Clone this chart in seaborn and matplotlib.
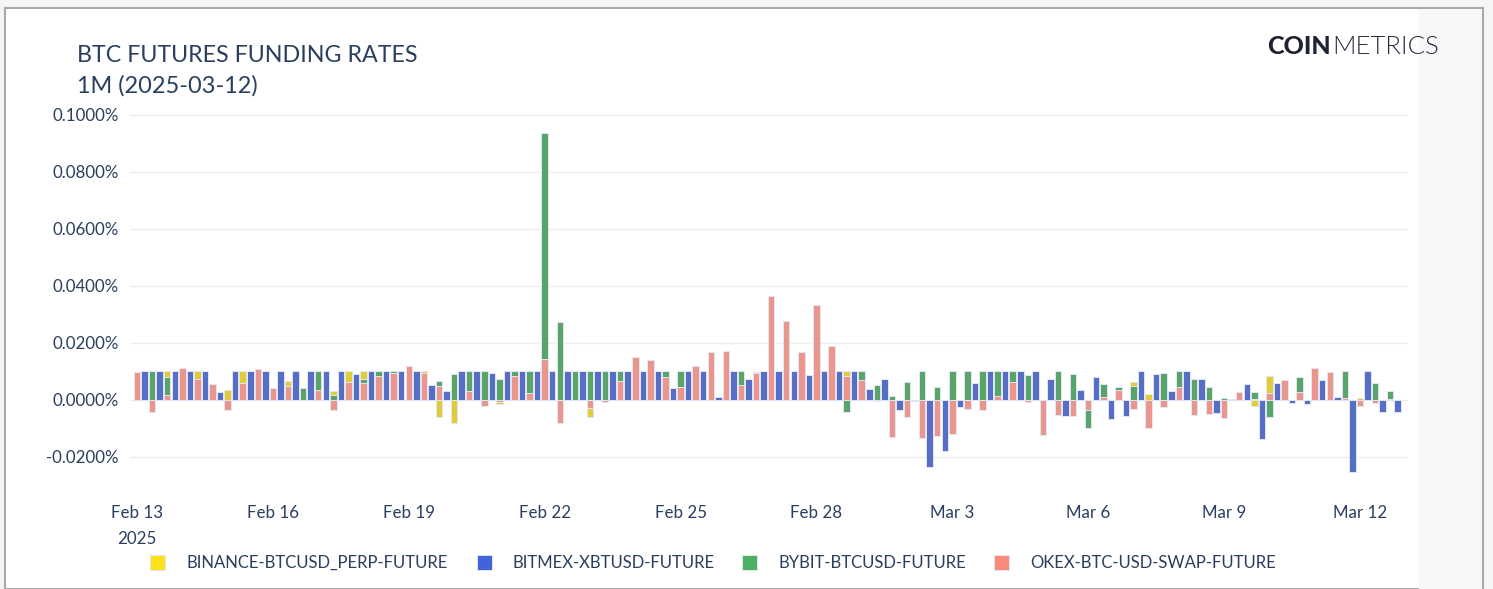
import numpy as np
import pandas as pd
import seaborn as sns
import matplotlib
matplotlib.use("Agg")
import matplotlib.pyplot as plt
from matplotlib.patches import Rectangle
from matplotlib.ticker import FuncFormatter

# ---------------- data ----------------
series_names = ["BINANCE-BTCUSD_PERP-FUTURE", "BITMEX-XBTUSD-FUTURE",
                "BYBIT-BTCUSD-FUTURE", "OKEX-BTC-USD-SWAP-FUTURE"]
series_colors = ["#ffe119", "#4363d8", "#4cb162", "#fa8a7c"]

# funding timestamps (8-hourly); BitMEX settles 4h offset from the others
times_main = pd.date_range("2025-02-13 00:00", periods=84, freq="8h")
times_bitmex = pd.date_range("2025-02-13 04:00", periods=84, freq="8h")

binance = [0.0090, 0.0060, 0.0100, 0.0100, 0.0100, 0.0040, 0.0035, 0.0100, 0.0100, 0.0030,
           0.0068, 0.0030, 0.0080, 0.0033, 0.0100, 0.0100, 0.0080, 0.0090, 0.0100, 0.0100,
           -0.0061, -0.0080, 0.0080, 0.0050, -0.0015, 0.0080, 0.0080, 0.0100, 0.0100, 0.0080,
           -0.0061, 0.0080, 0.0080, 0.0100, 0.0100, 0.0080, 0.0040, 0.0100, 0.0100, 0.0100,
           0.0080, 0.0090, 0.0100, 0.0100, 0.0100, 0.0100, 0.0100, 0.0100, 0.0060, 0.0030,
           0.0010, 0.0040, 0.0050, 0.0030, 0.0050, 0.0050, 0.0050, 0.0050, 0.0050, 0.0050,
           -0.0050, 0.0050, 0.0050, -0.0020, 0.0030, 0.0020, 0.0062, 0.0021, 0.0050, 0.0050,
           0.0050, 0.0030, 0.0005, 0.0020, -0.0021, 0.0084, 0.0050, 0.0050, 0.0080, 0.0080,
           0.0050, 0.0006, 0.0030, 0.0020]

bybit = [0.0095, 0.0100, 0.0082, 0.0100, 0.0060, 0.0045, -0.0020, 0.0050, 0.0100, 0.0035,
         0.0045, 0.0041, 0.0100, 0.0018, 0.0050, 0.0073, 0.0100, 0.0100, 0.0100, 0.0080,
         0.0068, 0.0090, 0.0100, 0.0100, 0.0073, 0.0100, 0.0100, 0.0937, 0.0275, 0.0100,
         0.0100, 0.0100, 0.0100, 0.0100, 0.0100, 0.0100, 0.0100, 0.0100, 0.0100, 0.0100,
         0.0100, 0.0099, 0.0100, 0.0100, 0.0100, 0.0100, 0.0100, -0.0044, 0.0100, 0.0053,
         0.0015, 0.0064, 0.0100, 0.0047, 0.0100, 0.0100, 0.0100, 0.0100, 0.0100, 0.0088,
         -0.0060, 0.0100, 0.0090, -0.0097, 0.0055, 0.0044, 0.0050, -0.0050, 0.0094, 0.0100,
         0.0074, 0.0047, 0.0008, 0.0020, 0.0027, -0.0061, 0.0060, 0.0080, 0.0090, 0.0090,
         0.0100, -0.0010, 0.0058, 0.0033]

okex = [0.0097, -0.0041, 0.0016, 0.0113, 0.0073, 0.0055, -0.0035, 0.0058, 0.0108, 0.0041,
        0.0049, 0.0001, 0.0035, -0.0035, 0.0062, 0.0061, 0.0084, 0.0094, 0.0120, 0.0094,
        0.0050, 0.0001, 0.0033, -0.0021, -0.0006, 0.0085, 0.0026, 0.0143, -0.0080, 0.0001,
        -0.0027, -0.0006, 0.0068, 0.0152, 0.0140, 0.0080, 0.0047, 0.0120, 0.0170, 0.0173,
        0.0053, 0.0094, 0.0366, 0.0278, 0.0170, 0.0333, 0.0191, 0.0084, 0.0070, -0.0004,
        -0.0131, -0.0061, -0.0135, -0.0126, -0.0120, -0.0033, -0.0035, 0.0015, 0.0062, -0.0006,
        -0.0123, -0.0053, -0.0058, -0.0035, 0.0012, 0.0035, -0.0032, -0.0099, -0.0023, 0.0047,
        -0.0053, -0.0049, -0.0064, 0.0029, 0.0003, 0.0026, 0.0070, 0.0027, 0.0113, 0.0097,
        0.0006, -0.0021, -0.0012, 0.0002]

bitmex = [0.0100, 0.0100, 0.0100, 0.0100, 0.0100, 0.0029, 0.0100, 0.0100, 0.0100, 0.0100,
          0.0100, 0.0100, 0.0100, 0.0100, 0.0090, 0.0100, 0.0100, 0.0100, 0.0100, 0.0053,
          0.0032, 0.0100, 0.0100, 0.0094, 0.0100, 0.0100, 0.0100, 0.0100, 0.0100, 0.0100,
          0.0100, 0.0100, 0.0100, 0.0100, 0.0100, 0.0043, 0.0100, 0.0100, 0.0009, 0.0100,
          0.0073, 0.0100, 0.0100, 0.0100, 0.0088, 0.0100, 0.0100, 0.0100, 0.0037, 0.0074,
          -0.0035, -0.0002, -0.0236, -0.0178, -0.0026, 0.0058, 0.0100, 0.0100, 0.0100, 0.0100,
          0.0073, -0.0056, 0.0035, 0.0080, -0.0067, -0.0058, 0.0100, 0.0090, 0.0033, 0.0100,
          0.0074, -0.0047, 0.0002, 0.0056, -0.0137, 0.0058, -0.0012, -0.0014, 0.0070, 0.0012,
          -0.0254, 0.0100, -0.0044, -0.0044]

x_tick_dates = ["2025-02-13", "2025-02-16", "2025-02-19", "2025-02-22", "2025-02-25",
                "2025-02-28", "2025-03-03", "2025-03-06", "2025-03-09", "2025-03-12"]
x_tick_labels = ["Feb 13\n2025", "Feb 16", "Feb 19", "Feb 22", "Feb 25",
                 "Feb 28", "Mar 3", "Mar 6", "Mar 9", "Mar 12"]
y_ticks = [-0.02, 0.0, 0.02, 0.04, 0.06, 0.08, 0.10]

title_line1 = "BTC FUTURES FUNDING RATES"
title_line2 = "1M (2025-03-12)"

# ---------------- frame ----------------
t0 = pd.Timestamp("2025-02-13 00:00")
frames = []
for name, times, vals in [(series_names[0], times_main, binance),
                          (series_names[1], times_bitmex, bitmex),
                          (series_names[2], times_main, bybit),
                          (series_names[3], times_main, okex)]:
    frames.append(pd.DataFrame({"day": (times - t0) / pd.Timedelta("1D"),
                                "rate": vals, "exchange": name}))
df = pd.concat(frames, ignore_index=True)

# ---------------- figure ----------------
sns.set_theme(style="white")
plt.rcParams["font.family"] = ["Lato", "DejaVu Sans"]

W, H = 1493, 589
fig = plt.figure(figsize=(W / 100, H / 100), dpi=100)
fig.patch.set_facecolor("#f5f5f5")

def fx(px):
    return px / W

def fy(py):
    return 1 - py / H

card = Rectangle((fx(5), 0), fx(1483) - fx(5), fy(8), transform=fig.transFigure,
                 facecolor="white", edgecolor="#a9a9a9", linewidth=1.5, zorder=-10)
fig.add_artist(card)
strip = Rectangle((fx(1419), 0), fx(1482) - fx(1419), fy(9), transform=fig.transFigure,
                  facecolor="#f7f7f8", edgecolor="none", zorder=-9)
fig.add_artist(strip)

ax = fig.add_axes([fx(130), fy(490), fx(1408) - fx(130), fy(105) - fy(490)])
ax.patch.set_alpha(0)

sns.barplot(data=df, x="day", y="rate", hue="exchange", hue_order=series_names,
            palette=dict(zip(series_names, series_colors)), native_scale=True,
            dodge=False, width=0.86, errorbar=None, edgecolor="#e3e6f3",
            linewidth=0.7, legend=False, ax=ax)

tick_pos = [(pd.Timestamp(d) - t0) / pd.Timedelta("1D") for d in x_tick_dates]
ax.set_xlim(-0.155, 28.06)
ax.set_ylim(-0.0316, 0.1035)
ax.set_xticks(tick_pos)
ax.set_xticklabels(x_tick_labels)
ax.set_yticks(y_ticks)
ax.yaxis.set_major_formatter(FuncFormatter(lambda v, p: f"{v:.4f}%"))
ax.set_xlabel("")
ax.set_ylabel("")
for s in ax.spines.values():
    s.set_visible(False)
ax.yaxis.grid(True, color="#eeeeee", linewidth=1)
ax.xaxis.grid(False)
ax.set_axisbelow(True)
ax.tick_params(axis="both", length=0, labelsize=12.2, labelcolor="#2a3f5f")
ax.tick_params(axis="y", pad=8)
ax.tick_params(axis="x", pad=11)
for lbl in ax.get_xticklabels():
    lbl.set_linespacing(1.75)

# titles
fig.text(fx(77), fy(62), title_line1, fontsize=16.75, color="#2a3f5f", va="baseline", ha="left")
fig.text(fx(77), fy(93), title_line2, fontsize=16.9, color="#2a3f5f", va="baseline", ha="left")

# logo
fig.text(fx(1331), fy(54), "COIN", fontsize=18, fontweight="black", color="#1f2233",
         va="baseline", ha="right")
fig.text(fx(1332), fy(54), "METRICS", fontsize=18.5, fontweight=300, color="#2a2d3d",
         va="baseline", ha="left")

# legend
legend_x = [150, 477, 742, 994]
for xpos, name, col in zip(legend_x, series_names, series_colors):
    fig.add_artist(Rectangle((fx(xpos), fy(570)), fx(15), 15 / H, transform=fig.transFigure,
                             facecolor=col, edgecolor="#e3e6f3", linewidth=0.7))
    fig.text(fx(xpos + 36), fy(563), name, fontsize=12, color="#2a3f5f",
             va="center", ha="left")

fig.savefig("out.png", dpi=100, facecolor=fig.get_facecolor())
